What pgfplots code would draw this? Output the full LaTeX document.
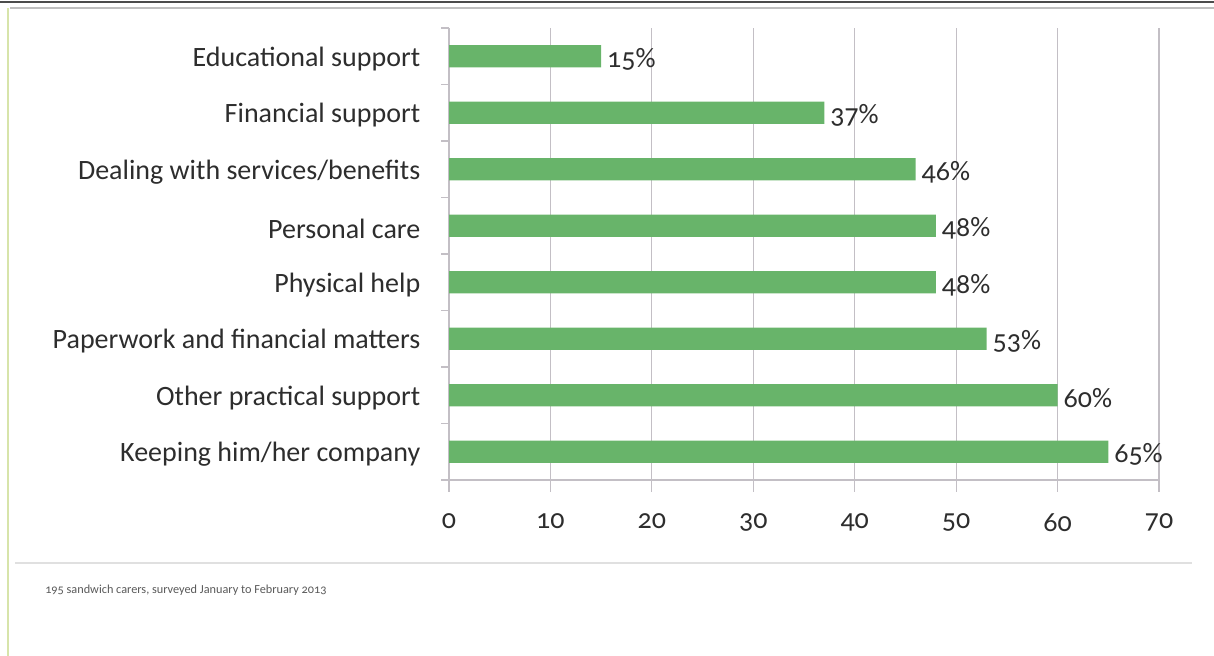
\documentclass[border=0pt]{standalone}
\usepackage{pgfplots}
\pgfplotsset{compat=1.18}
\usepackage{fontspec}
\setmainfont{Carlito}[Numbers=OldStyle]
\definecolor{bargreen}{RGB}{104,180,106}
\definecolor{txt}{RGB}{45,45,45}
\definecolor{gridc}{RGB}{195,191,197}
\begin{document}
\begin{tikzpicture}[x=0.75pt,y=0.75pt]
\useasboundingbox (0,0) rectangle (1214,656);
% frame decorations
\draw[line width=1.5pt,black!70] (0,654) -- (1214,654);
\draw[line width=1.2pt,black!25] (10,648) -- (1214,648);
\draw[line width=1.2pt,color={rgb,255:red,215;green,228;blue,170}] (8,0) -- (8,648);
\draw[line width=1.5pt,black!12] (15,93) -- (1192,93);
\node[anchor=west,font=\fontsize{9.2pt}{11pt}\selectfont,text=black!65,inner sep=0] at (45,66) {195 sandwich carers, surveyed January to February 2013};
\begin{axis}[
  at={(336.75pt,132pt)}, anchor=south west,
  scale only axis, width=532.5pt, height=339pt,
  xbar, bar width=0.39,
  xmin=0, xmax=70, ymin=-0.5, ymax=7.5,
  xtick={0,10,...,70},
  ytick={0,...,7},
  yticklabels={Keeping him/her company,Other practical support,Paperwork and financial matters,Physical help,Personal care,Dealing with services/benefits,Financial support,Educational support},
  minor ytick={-0.5,0.5,...,7.5},
  axis x line*=bottom, axis y line*=left,
  axis line style={gridc, line width=0.8pt},
  xmajorgrids, grid style={gridc, line width=0.8pt},
  major x tick style={gridc, line width=0.8pt},
  tick align=outside,
  major tick length=9pt,
  minor tick length=6pt,
  minor y tick style={gridc, line width=0.8pt},
  major y tick style={draw=none},
  tick label style={font=\fontsize{21pt}{24pt}\selectfont, text=txt},
  yticklabel style={xshift=-9pt, yshift=-2pt},
  xticklabel style={yshift=-13pt},
  /pgf/number format/assume math mode=true,
  nodes near coords={\pgfmathprintnumber{\pgfplotspointmeta}\%},
  nodes near coords style={font=\fontsize{21pt}{24pt}\selectfont, text=txt, xshift=1pt, yshift=-2pt},
  point meta=x,
]
\addplot[fill=bargreen, draw=none] coordinates {
(65,0) (60,1) (53,2) (48,3) (48,4) (46,5) (37,6) (15,7)
};
\end{axis}
\end{tikzpicture}
\end{document}
